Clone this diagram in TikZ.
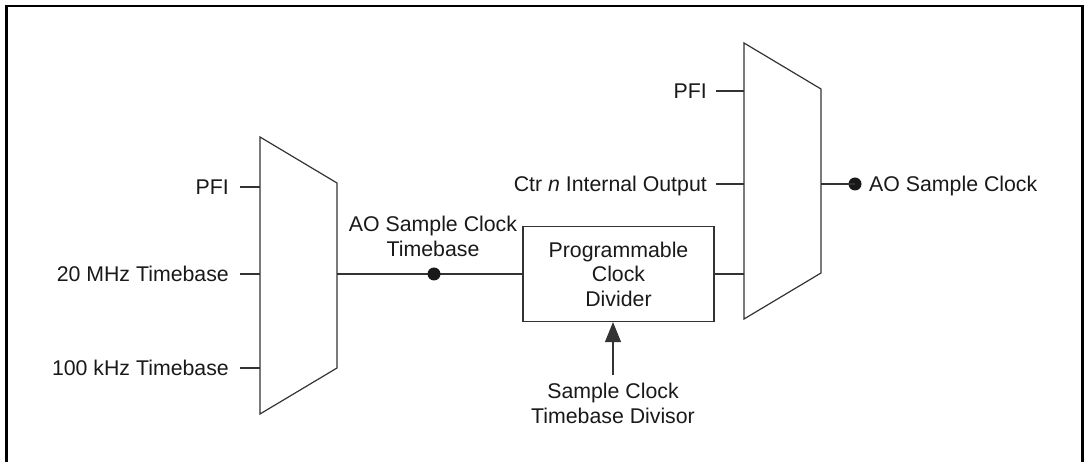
\documentclass[tikz,border=0pt]{standalone}
\usepackage{fontspec}
\setmainfont{Liberation Sans}
\usetikzlibrary{arrows.meta}
\begin{document}
\begin{tikzpicture}[x=1pt,y=-1pt,
  wire/.style={draw=black!80,line width=1.2pt},
  lbl/.style={inner sep=0pt,font=\fontsize{21.3}{25}\selectfont,text=black!90},
  sigdot/.style={circle,fill=black!90,inner sep=0pt,minimum size=13pt},
  muxshape/.style={draw=black!80,line width=1.2pt,line join=miter},
]
\useasboundingbox (0,0) rectangle (1085,462);
% frame
\draw[line width=2.2pt] (6.5,480) -- (6.5,6) -- (1082.5,6) -- (1082.5,480);

% left multiplexer
\draw[muxshape] (260,137) -- (337,183) -- (337,368) -- (260,414) -- cycle;
\coordinate (inA1) at (260,187);
\coordinate (inA2) at (260,274);
\coordinate (inA3) at (260,368);
\coordinate (outA) at (337,274);

\node[lbl,anchor=base east] (pfiA) at (229,194.5) {PFI};
\node[lbl,anchor=base east] (mhz) at (229,281.5) {20 MHz Timebase};
\node[lbl,anchor=base east] (khz) at (229,375.5) {100 kHz Timebase};
\draw[wire] (inA1) -- ++(-20,0);
\draw[wire] (inA2) -- ++(-20,0);
\draw[wire] (inA3) -- ++(-20,0);

% divider box
\node[draw=black!80,line width=1.2pt,minimum width=191pt,minimum height=95pt,
      inner sep=0pt,align=center,font=\fontsize{21.3}{24.5}\selectfont,text=black!90]
      (pcd) at (618.5,274) {Programmable\\Clock\\Divider};

\draw[wire] (outA) -- (pcd.west);
\node[sigdot] (tbdot) at (434,274) {};
\node[lbl,align=center,anchor=south] (tblbl) at (433,257) {AO Sample Clock\\Timebase};

% right multiplexer
\draw[muxshape] (744,43) -- (821,89) -- (821,273) -- (744,319) -- cycle;
\coordinate (inB1) at (744,91);
\coordinate (inB2) at (744,184);
\coordinate (outB) at (821,184);

\node[lbl,anchor=base east] (pfiB) at (707,98.5) {PFI};
\node[lbl,anchor=base east] (ctr) at (707,191.5) {Ctr \textit{n} Internal Output};
\draw[wire] (inB1) -- ++(-28,0);
\draw[wire] (inB2) -- ++(-28,0);
\draw[wire] (pcd.east) -- (pcd.east -| inB1);

\node[sigdot] (aodot) at (855,184) {};
\draw[wire] (outB) -- (aodot.center);
\node[lbl,anchor=base west] (aolbl) at (869,191.5) {AO Sample Clock};

% divisor input
\node[lbl,align=center,anchor=north] (div) at (613,383) {Sample Clock\\Timebase Divisor};
\draw[wire,-{Triangle[width=16pt,length=20pt]}] ([yshift=8pt]div.north) -- (div.north |- pcd.south);
\end{tikzpicture}
\end{document}
